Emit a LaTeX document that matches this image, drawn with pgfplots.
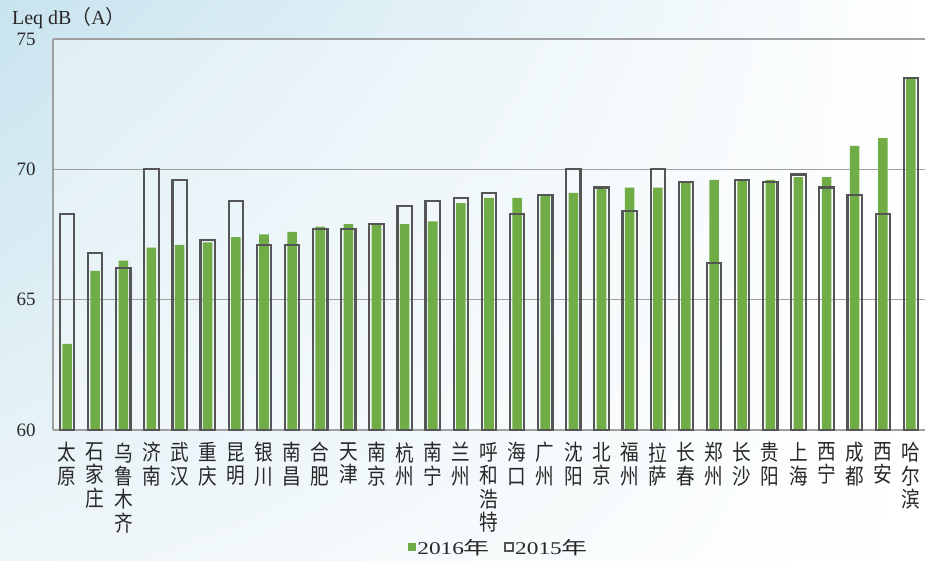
\documentclass[border=0pt]{standalone}
\usepackage{fontspec}
\usepackage{pgfplots}
\pgfplotsset{compat=1.18}
\usepackage{pgfplotstable}
\usetikzlibrary{shadings}
\setmainfont{Liberation Serif}
\newfontfamily\cjk{Noto Sans CJK SC}
\newfontfamily\cjkx[FakeStretch=0.85]{Noto Sans CJK SC}
\newfontfamily\leglat[FakeStretch=1.3]{Liberation Serif}
\newfontfamily\legcjk[FakeStretch=1.45]{Noto Sans CJK SC}
\definecolor{grn}{RGB}{112,173,71}
\definecolor{outl}{RGB}{85,85,85}
\definecolor{gridc}{RGB}{160,160,160}
\definecolor{bgA}{RGB}{200,228,239}
\definecolor{bgB}{RGB}{238,246,249}
\definecolor{txt}{RGB}{40,40,40}

\pgfplotstableread{
i v2016 v2015
0 63.3 68.3
1 66.1 66.8
2 66.5 66.2
3 67.0 70.0
4 67.1 69.6
5 67.2 67.3
6 67.4 68.8
7 67.5 67.1
8 67.6 67.1
9 67.8 67.7
10 67.9 67.7
11 67.9 67.9
12 67.9 68.6
13 68.0 68.8
14 68.7 68.9
15 68.9 69.1
16 68.9 68.3
17 69.0 69.0
18 69.1 70.0
19 69.3 69.3
20 69.3 68.4
21 69.3 70.0
22 69.5 69.5
23 69.6 66.4
24 69.6 69.6
25 69.6 69.5
26 69.7 69.8
27 69.7 69.3
28 70.9 69.0
29 71.2 68.3
30 73.5 73.5
}\noise

\begin{document}
\begin{tikzpicture}[x=1bp,y=1bp]
\useasboundingbox (-53,-131) rectangle (873,430);
\shade[shading=bilinear interpolation, upper left=bgA, upper right=white, lower left=bgB, lower right=white] (-53,-131) rectangle (873,430);
\begin{axis}[
  at={(0,0)}, anchor=south west,
  scale only axis, width=872bp, height=391bp,
  xmin=-0.5, xmax=30.5, ymin=0, ymax=15,
  clip=false,
  axis x line*=bottom, axis y line*=left,
  axis line style={-, draw=gridc, line width=1.5bp},
  ymajorgrids, grid style={draw=gridc, line width=1.5bp},
  major tick length=0pt,
  axis background/.style={fill=white, fill opacity=0.35},
  ytick={0,5,10,15}, yticklabels={60,65,70,75},
  yticklabel style={font=\fontsize{19}{22}\selectfont, text=txt, xshift=-14bp},
  xtick={0,...,30},
  xticklabels={{太\\原},{石\\家\\庄},{乌\\鲁\\木\\齐},{济\\南},{武\\汉},{重\\庆},{昆\\明},{银\\川},{南\\昌},{合\\肥},{天\\津},{南\\京},{杭\\州},{南\\宁},{兰\\州},{呼\\和\\浩\\特},{海\\口},{广\\州},{沈\\阳},{北\\京},{福\\州},{拉\\萨},{长\\春},{郑\\州},{长\\沙},{贵\\阳},{上\\海},{西\\宁},{成\\都},{西\\安},{哈\\尔\\滨}},
  xticklabel style={font=\cjkx\fontsize{22}{23.5}\selectfont, text=txt, align=center, anchor=north, yshift=-9bp},
  legend columns=2,
  legend style={at={(axis description cs:0.511,-0.30)}, anchor=center, draw=none, fill=none,
    font=\fontsize{18}{21}\selectfont, text=txt, nodes={inner sep=1.5bp},
    /tikz/every even column/.append style={column sep=12bp}},
]
\addplot[ybar, bar width=0.34, bar shift=0pt, fill=grn, draw=none,
  legend image code/.code={\fill[grn] (0bp,-4bp) rectangle (8bp,4bp);}]
  table[x=i, y expr=\thisrow{v2016}-60] {\noise};
\addplot[ybar, bar width=0.51, bar shift=0pt, fill=none, draw=outl, line width=2.2bp,
  legend image code/.code={\draw[outl, line width=2.2bp] (1bp,-4bp) rectangle (9bp,4bp);}]
  table[x=i, y expr=\thisrow{v2015}-60] {\noise};
\legend{{\leglat 2016\legcjk 年},{\leglat 2015\legcjk 年}}
\end{axis}
\node[anchor=west, text=txt, font=\fontsize{20}{24}\selectfont, inner sep=0pt] at (-41,412) {Leq dB{\cjk（}A{\cjk）}};
\end{tikzpicture}
\end{document}
